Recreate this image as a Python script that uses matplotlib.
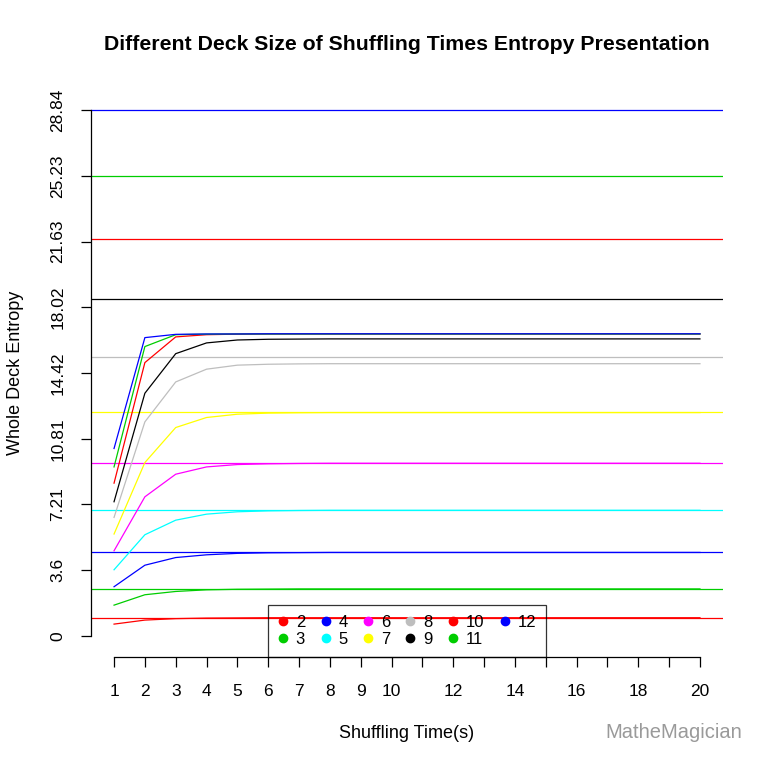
import matplotlib
matplotlib.use('Agg')
import matplotlib.pyplot as plt
from matplotlib.lines import Line2D

plt.rcParams['font.family'] = ['Liberation Sans', 'DejaVu Sans']

# shuffle counts
shuffles = list(range(1, 21))

# deck sizes and their colours (R default palette, col = n)
deck_sizes = [2, 3, 4, 5, 6, 7, 8, 9, 10, 11, 12]
colors = ['#FF0000', '#00CD00', '#0000FF', '#00FFFF', '#FF00FF', '#FFFF00',
          '#BEBEBE', '#000000', '#FF0000', '#00CD00', '#0000FF']

# maximum entropy log2(n!) for each deck size
max_entropy = [1.0, 2.585, 4.585, 6.907, 9.492, 12.299, 15.299, 18.469,
               21.791, 25.25, 28.835]

# entropy after k shuffles
ent_2 = [0.65, 0.87, 0.95, 0.98, 0.99, 1.0, 1.0, 1.0, 1.0, 1.0,
         1.0, 1.0, 1.0, 1.0, 1.0, 1.0, 1.0, 1.0, 1.0, 1.0]
ent_3 = [1.69, 2.26, 2.44, 2.53, 2.56, 2.57, 2.58, 2.58, 2.58, 2.58,
         2.58, 2.58, 2.58, 2.58, 2.58, 2.58, 2.58, 2.58, 2.58, 2.58]
ent_4 = [2.70, 3.88, 4.30, 4.45, 4.53, 4.56, 4.57, 4.58, 4.58, 4.58,
         4.58, 4.58, 4.58, 4.58, 4.58, 4.58, 4.58, 4.58, 4.58, 4.58]
ent_5 = [3.63, 5.55, 6.35, 6.68, 6.81, 6.86, 6.88, 6.89, 6.89, 6.89,
         6.89, 6.89, 6.89, 6.89, 6.89, 6.89, 6.89, 6.89, 6.89, 6.89]
ent_6 = [4.67, 7.63, 8.87, 9.27, 9.40, 9.44, 9.46, 9.47, 9.47, 9.47,
         9.47, 9.47, 9.47, 9.47, 9.47, 9.47, 9.47, 9.47, 9.47, 9.47]
ent_7 = [5.59, 9.51, 11.43, 11.98, 12.16, 12.22, 12.24, 12.25, 12.25, 12.25,
         12.25, 12.25, 12.25, 12.25, 12.25, 12.25, 12.25, 12.25, 12.25, 12.25]
ent_8 = [6.50, 11.74, 13.93, 14.63, 14.85, 14.90, 14.92, 14.93, 14.93, 14.93,
         14.93, 14.93, 14.93, 14.93, 14.93, 14.93, 14.93, 14.93, 14.93, 14.93]
ent_9 = [7.36, 13.31, 15.48, 16.07, 16.23, 16.27, 16.28, 16.29, 16.29, 16.29,
         16.29, 16.29, 16.29, 16.29, 16.29, 16.29, 16.29, 16.29, 16.29, 16.29]
ent_10 = [8.38, 14.99, 16.40, 16.52, 16.55, 16.56, 16.56, 16.56, 16.56, 16.56,
          16.56, 16.56, 16.56, 16.56, 16.56, 16.56, 16.56, 16.56, 16.56, 16.56]
ent_11 = [9.27, 15.87, 16.52, 16.55, 16.56, 16.56, 16.56, 16.56, 16.56, 16.56,
          16.56, 16.56, 16.56, 16.56, 16.56, 16.56, 16.56, 16.56, 16.56, 16.56]
ent_12 = [10.28, 16.36, 16.54, 16.56, 16.56, 16.57, 16.57, 16.57, 16.57, 16.57,
          16.57, 16.57, 16.57, 16.57, 16.57, 16.57, 16.57, 16.57, 16.57, 16.57]
entropies = [ent_2, ent_3, ent_4, ent_5, ent_6, ent_7, ent_8, ent_9,
             ent_10, ent_11, ent_12]

y_ticks = [0, 3.6, 7.21, 10.81, 14.42, 18.02, 21.63, 25.23, 28.84]
y_tick_labels = ['0', '3.6', '7.21', '10.81', '14.42', '18.02', '21.63',
                 '25.23', '28.84']
x_tick_labels = ['1', '2', '3', '4', '5', '6', '7', '8', '9', '10', '',
                 '12', '', '14', '', '16', '', '18', '', '20']

W, H = 768, 766
fig = plt.figure(figsize=(W / 100, H / 100), dpi=100)
ax = fig.add_axes([90.6 / W, 1 - 657 / H, 632.8 / W, 568 / H])

for n, col, ym, ys in zip(deck_sizes, colors, max_entropy, entropies):
    ax.axhline(ym, color=col, lw=0.9)
    ax.plot(shuffles, ys, color=col, lw=0.9)

# R-style axis extension of 4 %
ax.set_xlim(1 - 0.04 * 19, 20 + 0.04 * 19)
ax.set_ylim(-0.04 * 28.84, 28.84 * 1.04)

for s in ['top', 'right']:
    ax.spines[s].set_visible(False)
ax.spines['left'].set_bounds(0, 28.84)
ax.spines['bottom'].set_bounds(1, 20)
ax.spines['left'].set_linewidth(0.9)
ax.spines['bottom'].set_linewidth(0.9)

ax.set_xticks(shuffles)
ax.set_xticklabels(x_tick_labels)
ax.set_yticks(y_ticks)
ax.set_yticklabels(y_tick_labels, rotation=90, va='center')
ax.tick_params(axis='both', direction='out', length=7, width=0.9,
               labelsize=12.5)
ax.tick_params(axis='x', pad=12.5)
ax.tick_params(axis='y', pad=11)

ax.set_xlabel('Shuffling Time(s)', fontsize=13)
ax.xaxis.set_label_coords(0.5, (657 - 734) / 568)
ax.xaxis.label.set_va('center')
ax.set_ylabel('Whole Deck Entropy', fontsize=13)
ax.yaxis.set_label_coords((15 - 90.6) / 632.8, 0.5)
ax.yaxis.label.set_va('center')

fig.text(407 / W, 1 - 45 / H,
         'Different Deck Size of Shuffling Times Entropy Presentation',
         ha='center', va='center', fontsize=15.3, fontweight='bold')

handles = [Line2D([], [], marker='o', linestyle='none', color=c,
                  markersize=6) for c in colors]
leg = ax.legend(handles, [str(n) for n in deck_sizes], ncol=6,
                loc='lower center', bbox_to_anchor=(0.5, 0),
                borderaxespad=0, fontsize=12, frameon=True, fancybox=False,
                handlelength=0.6, handletextpad=0.47, columnspacing=0.92,
                labelspacing=0.12, borderpad=0.6)
leg.get_frame().set_edgecolor('black')
leg.get_frame().set_facecolor('none')
leg.get_frame().set_linewidth(0.9)

fig.text(742 / W, 1 - 732 / H, 'MatheMagician', ha='right', va='center',
         fontsize=14.5, color='#9a9a9a')

fig.savefig('out.png', dpi=100)
